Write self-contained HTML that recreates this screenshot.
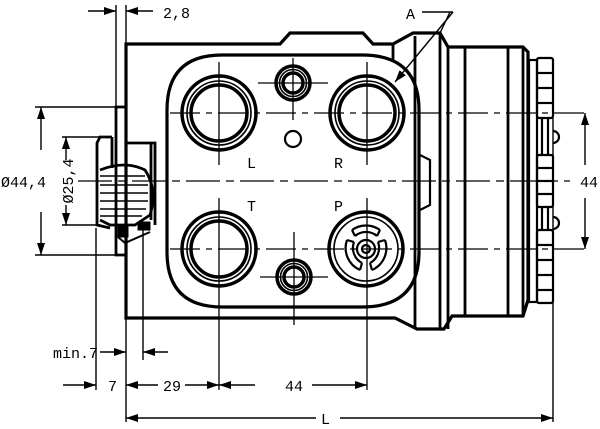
<!DOCTYPE html>
<html><head><meta charset="utf-8"><style>
html,body{margin:0;padding:0;background:#fff;width:600px;height:429px;overflow:hidden}
svg{display:block}
text{font-family:"Liberation Mono",monospace;font-size:15px;fill:#000}
</style></head><body>
<svg width="600" height="429" viewBox="0 0 600 429" xmlns="http://www.w3.org/2000/svg">
<defs>
<marker id="ar2" viewBox="0 0 12 8" refX="12" refY="4" markerWidth="12" markerHeight="8" markerUnits="userSpaceOnUse" orient="auto-start-reverse"><path d="M0,0 L12,4 L0,8 z" fill="#000"/></marker>
</defs>
<g fill="none" stroke="#000">
<g stroke-width="3.2">
<path d="M126,44 H280 L290,33 H363 L373,44 H393 L413,33 H440 L448,47 H523 L528,52 V300 L523,316 H452 L444,329 H417 L395,318 H126 Z"/>
<path d="M167,110 Q167,55 222,55 H362 Q419,55 419,110 V252 Q419,307 362,307 H222 Q167,307 167,252 Z"/>
</g>
<g stroke-width="2.8">
<line x1="393" y1="44" x2="393" y2="60"/>
<line x1="415" y1="36" x2="415" y2="328"/>
<line x1="440" y1="33" x2="440" y2="329"/>
<line x1="448" y1="47" x2="448" y2="329"/>
<line x1="465" y1="47" x2="465" y2="316"/>
<line x1="508" y1="47" x2="508" y2="316"/>
<line x1="523" y1="47" x2="523" y2="316"/>
</g>
<path d="M420,155 L430,160 V205 L420,210" stroke-width="2.2"/>
<g stroke-width="2.2">
<rect x="529" y="60" width="8" height="242"/>
<rect x="537" y="58" width="16" height="60" rx="2"/>
<rect x="537" y="155" width="16" height="52" rx="2"/>
<rect x="537" y="230" width="16" height="73" rx="2"/>
<line x1="537" y1="73" x2="553" y2="73"/><line x1="537" y1="88" x2="553" y2="88"/><line x1="537" y1="103" x2="553" y2="103"/>
<line x1="537" y1="168" x2="553" y2="168"/><line x1="537" y1="181" x2="553" y2="181"/><line x1="537" y1="194" x2="553" y2="194"/>
<line x1="537" y1="245" x2="553" y2="245"/><line x1="537" y1="260" x2="553" y2="260"/><line x1="537" y1="275" x2="553" y2="275"/><line x1="537" y1="290" x2="553" y2="290"/>
<line x1="542" y1="118" x2="542" y2="155"/><line x1="548" y1="118" x2="548" y2="155"/>
<line x1="542" y1="207" x2="542" y2="230"/><line x1="548" y1="207" x2="548" y2="230"/>
<path d="M553,131 A6,6 0 0 1 553,143"/><path d="M553,217 A6,6 0 0 1 553,229"/>
</g>
<g stroke-width="2.8">
<path d="M126,107 H116 V255 H126"/>
<path d="M126,143 H155 V225"/>
<line x1="151" y1="143" x2="151" y2="220"/>
<path d="M112,137 H100 L97,143 V225 L110,228"/>
<line x1="112" y1="137" x2="112" y2="168"/>
<path d="M100,170 Q125,160 145,170 Q158,190 150,215 L135,225 H110 L100,220"/>
</g>
<g stroke-width="1.6">
<line x1="100" y1="176" x2="145" y2="176"/><line x1="100" y1="185" x2="148" y2="185"/>
<line x1="100" y1="193" x2="148" y2="193"/><line x1="100" y1="201" x2="148" y2="201"/>
<line x1="100" y1="209" x2="146" y2="209"/><line x1="100" y1="216" x2="142" y2="216"/>
</g>
<rect x="118" y="225" width="10" height="12" fill="#000"/>
<rect x="138" y="222" width="12" height="8" fill="#000"/>
<path d="M118,237 L125,243 L150,232" stroke-width="2"/>
<g stroke-width="3.5">
<circle cx="219" cy="113" r="37"/><circle cx="219" cy="113" r="28"/>
<circle cx="367" cy="113" r="37"/><circle cx="367" cy="113" r="28"/>
<circle cx="219" cy="249" r="37"/><circle cx="219" cy="249" r="28"/>
<circle cx="366" cy="249" r="37"/>
<circle cx="293" cy="83" r="17"/><circle cx="293" cy="83" r="10"/>
<circle cx="294" cy="277" r="17"/><circle cx="294" cy="277" r="10"/>
</g>
<g stroke-width="1.6">
<circle cx="219" cy="113" r="32"/><circle cx="367" cy="113" r="32"/><circle cx="219" cy="249" r="32"/><circle cx="366" cy="249" r="32"/>
<circle cx="293" cy="83" r="13.5"/><circle cx="294" cy="277" r="13.5"/>
</g>
<circle cx="293" cy="139" r="8" stroke-width="2.2"/>
<g stroke-width="2.2">
<circle cx="366" cy="249" r="9"/><circle cx="366" cy="249" r="4"/>
<path d="M352,230 A24,24 0 0 1 380,230 M355,236 A17,17 0 0 1 377,236 M352,230 L355,236 M380,230 L377,236"/>
<path d="M347,240 A24,24 0 0 0 360,270 M354,242 A17,17 0 0 0 362,263 M347,240 L354,242 M360,270 L362,263"/>
<path d="M385,240 A24,24 0 0 1 372,270 M378,242 A17,17 0 0 1 370,263 M385,240 L378,242 M372,270 L370,263"/>
</g>
<g stroke-width="1.3">
<line x1="170" y1="113" x2="590" y2="113" stroke-dasharray="30,6,6,6"/>
<line x1="170" y1="249" x2="590" y2="249" stroke-dasharray="30,6,6,6"/>
<line x1="78" y1="181" x2="570" y2="181" stroke-dasharray="34,6,8,6"/>
<line x1="219" y1="62" x2="219" y2="165"/><line x1="367" y1="62" x2="367" y2="165"/>
<line x1="219" y1="198" x2="219" y2="390"/><line x1="367" y1="198" x2="367" y2="390"/>
<line x1="293" y1="58" x2="293" y2="120"/><line x1="258" y1="83" x2="328" y2="83"/>
<line x1="294" y1="232" x2="294" y2="325"/><line x1="260" y1="277" x2="328" y2="277"/>
</g>
<g stroke-width="1.4">
<line x1="116" y1="5" x2="116" y2="107"/><line x1="126" y1="5" x2="126" y2="44"/>
<line x1="88" y1="11" x2="116" y2="11" marker-end="url(#ar2)"/>
<line x1="153" y1="11" x2="126" y2="11" marker-end="url(#ar2)"/>
<line x1="35" y1="107" x2="116" y2="107"/><line x1="35" y1="255" x2="116" y2="255"/>
<line x1="41" y1="150" x2="41" y2="107" marker-end="url(#ar2)"/>
<line x1="41" y1="212" x2="41" y2="255" marker-end="url(#ar2)"/>
<line x1="62" y1="137" x2="100" y2="137"/><line x1="62" y1="225" x2="100" y2="225"/>
<line x1="66" y1="160" x2="66" y2="137" marker-end="url(#ar2)"/>
<line x1="66" y1="205" x2="66" y2="225" marker-end="url(#ar2)"/>
<line x1="553" y1="118" x2="553" y2="422"/>
<line x1="585" y1="165" x2="585" y2="113" marker-end="url(#ar2)"/>
<line x1="585" y1="198" x2="585" y2="249" marker-end="url(#ar2)"/>
<line x1="96" y1="228" x2="96" y2="390"/>
<line x1="143" y1="228" x2="143" y2="360"/>
<line x1="126" y1="318" x2="126" y2="422"/>
<line x1="100" y1="352" x2="126" y2="352" marker-end="url(#ar2)"/>
<line x1="168" y1="352" x2="143" y2="352" marker-end="url(#ar2)"/>
<line x1="63" y1="385" x2="96" y2="385" marker-end="url(#ar2)"/>
<line x1="158" y1="385" x2="126" y2="385" marker-end="url(#ar2)"/>
<line x1="185" y1="385" x2="219" y2="385" marker-end="url(#ar2)"/>
<line x1="255" y1="385" x2="219" y2="385" marker-end="url(#ar2)"/>
<line x1="312" y1="385" x2="367" y2="385" marker-end="url(#ar2)"/>
<line x1="316" y1="418" x2="126" y2="418" marker-end="url(#ar2)"/>
<line x1="340" y1="418" x2="553" y2="418" marker-end="url(#ar2)"/>
<line x1="422" y1="12" x2="453" y2="12"/>
<line x1="453" y1="12" x2="395" y2="82" marker-end="url(#ar2)"/>
<line x1="450" y1="12" x2="440" y2="33"/>
</g>
</g>
<text x="163" y="18">2,8</text>
<text x="406" y="19">A</text>
<text x="1" y="187">Ø44,4</text>
<text transform="translate(73,181) rotate(-90)" text-anchor="middle" font-size="14">Ø25,4</text>
<text x="580" y="187">44</text>
<text x="247" y="168">L</text><text x="334" y="168">R</text>
<text x="247" y="211">T</text><text x="334" y="211">P</text>
<text x="53" y="358">min.7</text>
<text x="108" y="391">7</text>
<text x="163" y="391">29</text>
<text x="285" y="391">44</text>
<text x="321" y="424">L</text>
</svg>
</body></html>
